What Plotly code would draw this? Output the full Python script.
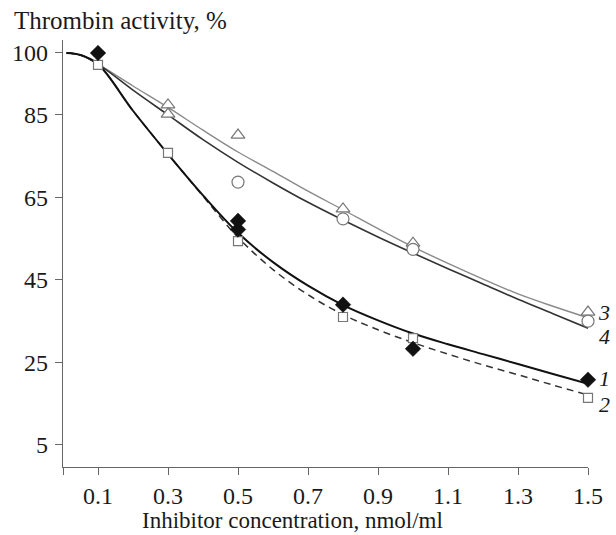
import plotly.graph_objects as go

# ---- data ----
curve_x = [0.01, 0.05, 0.1, 0.2, 0.3, 0.4, 0.5, 0.6, 0.7, 0.8, 0.9, 1.0, 1.1, 1.2, 1.3, 1.4, 1.5]
curve1_y = [100, 99.5, 97.3, 86.0, 75.5, 65.5, 56.4, 49.3, 43.6, 38.9, 35.2, 32.0, 29.4, 27.0, 24.6, 22.2, 19.8]
curve2_y = [100, 99.5, 97.3, 86.0, 75.5, 65.3, 55.3, 47.5, 41.4, 36.6, 32.9, 29.8, 27.0, 24.4, 22.0, 19.5, 17.1]

curve34_x = [0.01, 0.05, 0.1, 0.2, 0.3, 0.4, 0.5, 0.6, 0.7, 0.8, 0.9, 1.0, 1.1, 1.2, 1.3, 1.4, 1.5]
curve3_y = [100, 99.5, 97.3, 92.0, 86.8, 81.3, 76.0, 71.3, 66.5, 62.0, 57.4, 53.0, 49.0, 45.2, 41.6, 38.6, 35.8]
curve4_y = [100, 99.5, 97.3, 91.0, 85.0, 79.0, 73.5, 68.5, 63.8, 59.5, 55.4, 51.5, 47.7, 44.0, 40.3, 36.8, 33.3]

s1_x = [0.1, 0.5, 0.5, 0.8, 1.0, 1.5]
s1_y = [100, 59.3, 57.2, 39.0, 28.3, 20.8]
s2_x = [0.1, 0.3, 0.5, 0.8, 1.0, 1.5]
s2_y = [97.1, 75.8, 54.4, 36.0, 30.9, 16.4]
s3_x = [0.3, 0.3, 0.5, 0.8, 1.0, 1.5]
s3_y = [87.4, 85.2, 80.1, 62.2, 53.9, 37.2]
s4_x = [0.5, 0.8, 1.0, 1.5]
s4_y = [68.7, 59.8, 52.4, 35.0]

x_ticks = [0, 0.1, 0.3, 0.5, 0.7, 0.9, 1.1, 1.3, 1.5]
x_ticktext = ["", "0.1", "0.3", "0.5", "0.7", "0.9", "1.1", "1.3", "1.5"]
y_ticks = [5, 25, 45, 65, 85, 100]

curve_labels = ["3", "4", "1", "2"]
curve_label_y = [37.0, 31.3, 21.2, 14.9]

FONT = "Liberation Serif, Times New Roman, serif"
TXT = "#1a1a1a"

fig = go.Figure()

fig.add_trace(go.Scatter(x=curve34_x, y=curve3_y, mode="lines", line=dict(color="#8a8a8a", width=1.4, shape="spline"), hoverinfo="skip"))
fig.add_trace(go.Scatter(x=curve34_x, y=curve4_y, mode="lines", line=dict(color="#333333", width=1.6, shape="spline"), hoverinfo="skip"))
fig.add_trace(go.Scatter(x=curve_x, y=curve2_y, mode="lines", line=dict(color="#333333", width=1.5, dash="7px,5px", shape="spline"), hoverinfo="skip"))
fig.add_trace(go.Scatter(x=curve_x, y=curve1_y, mode="lines", line=dict(color="#111111", width=2, shape="spline"), hoverinfo="skip"))

fig.add_trace(go.Scatter(x=s3_x, y=s3_y, mode="markers", cliponaxis=False, marker=dict(symbol="triangle-up", size=12, color="white", line=dict(color="#777777", width=1.2))))
fig.add_trace(go.Scatter(x=s4_x, y=s4_y, mode="markers", cliponaxis=False, marker=dict(symbol="circle", size=12, color="white", line=dict(color="#777777", width=1.2))))
fig.add_trace(go.Scatter(x=s2_x, y=s2_y, mode="markers", cliponaxis=False, marker=dict(symbol="square", size=9, color="white", line=dict(color="#777777", width=1.2))))
fig.add_trace(go.Scatter(x=s1_x, y=s1_y, mode="markers", cliponaxis=False, marker=dict(symbol="diamond", size=12, color="#111111", line=dict(color="#111111", width=0.5))))

for t, yv in zip(curve_labels, curve_label_y):
    fig.add_annotation(x=(604 - 63) / 525, y=yv, xref="paper", yref="y", text="<i>" + t + "</i>", showarrow=False,
                       font=dict(family=FONT, size=22, color=TXT), xanchor="center", yanchor="middle")

fig.add_annotation(x=(12 - 63) / 525, y=1 + (40 - 21) / 427, xref="paper", yref="paper",
                   text="Thrombin activity, %", showarrow=False,
                   font=dict(family=FONT, size=25, color=TXT), xanchor="left", yanchor="middle")
fig.add_annotation(x=(292 - 63) / 525, y=-(520 - 467) / 427, xref="paper", yref="paper",
                   text="Inhibitor concentration, nmol/ml", showarrow=False,
                   font=dict(family=FONT, size=23, color=TXT), xanchor="center", yanchor="middle")

fig.update_layout(
    width=616, height=535,
    margin=dict(l=63, r=28, t=40, b=68),
    paper_bgcolor="white", plot_bgcolor="white",
    showlegend=False,
    font=dict(family=FONT, size=24, color=TXT),
    xaxis=dict(range=[0, 1.5], tickvals=x_ticks, ticktext=x_ticktext, ticks="outside", ticklen=7,
               tickcolor="#666666", showline=True, linecolor="#666666", linewidth=1.2,
               showgrid=False, zeroline=False, automargin=False,
               tickfont=dict(family=FONT, size=24, color=TXT)),
    yaxis=dict(range=[-0.36, 103.15], tickvals=y_ticks, ticks="outside", ticklen=7,
               tickcolor="#666666", showline=True, linecolor="#666666", linewidth=1.2,
               showgrid=False, zeroline=False, automargin=False, ticklabelstandoff=2,
               tickfont=dict(family=FONT, size=24, color=TXT)),
)

fig.write_html("out.html", config={"displayModeBar": False},
               post_script="document.body.style.margin='0';document.body.style.padding='0';")
